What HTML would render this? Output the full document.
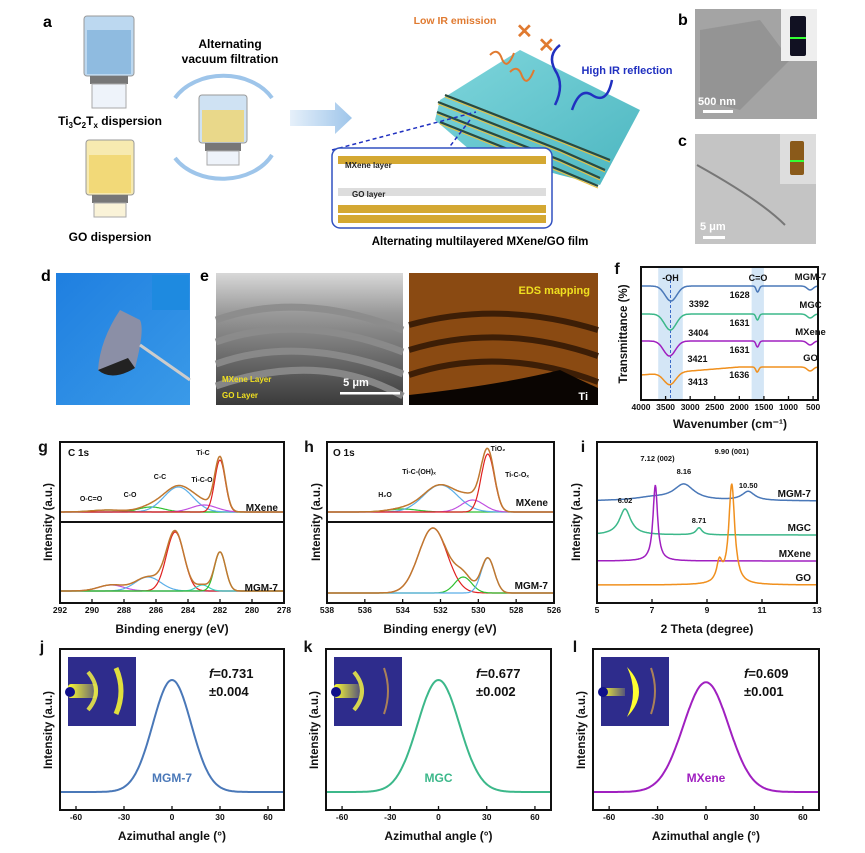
<!DOCTYPE html>
<html><head><meta charset="utf-8"><style>
body{margin:0;background:#fff;}
#root{position:relative;width:865px;height:853px;overflow:hidden;background:#fff;font-family:"Liberation Sans",Arial,sans-serif;font-weight:bold;}
svg text{font-family:"Liberation Sans",Arial,sans-serif;font-weight:bold;}
</style></head><body>
<div id="root">
<svg id="fig" width="865" height="853" viewBox="0 0 865 853" xmlns="http://www.w3.org/2000/svg">
<defs>
<linearGradient id="blueBg" x1="0" y1="0" x2="1" y2="1"><stop offset="0" stop-color="#1f7fe0"/><stop offset="1" stop-color="#3a9ae8"/></linearGradient>
<linearGradient id="sem" x1="0" y1="0" x2="0" y2="1"><stop offset="0" stop-color="#d8d8d8"/><stop offset="0.3" stop-color="#9a9a9a"/><stop offset="1" stop-color="#3a3a3a"/></linearGradient>
<linearGradient id="film" x1="0" y1="0" x2="1" y2="1"><stop offset="0" stop-color="#7fd6dc"/><stop offset="1" stop-color="#4cb6c0"/></linearGradient>
<linearGradient id="arrowG" x1="0" y1="0" x2="1" y2="0"><stop offset="0" stop-color="#e6f0fa"/><stop offset="1" stop-color="#9ec5ea"/></linearGradient>
<linearGradient id="beam" x1="0" y1="0" x2="1" y2="0"><stop offset="0" stop-color="#ffff30"/><stop offset="1" stop-color="#ffff30" stop-opacity="0.2"/></linearGradient>
</defs>

<!-- Panel a -->
<g>
<text x="43" y="27" font-size="16">a</text>
<g>
<rect x="84" y="16" width="50" height="60" rx="3" fill="#bcd8f0" stroke="#999"/>
<rect x="87" y="30" width="44" height="44" fill="#8fbbe0"/>
<rect x="90" y="76" width="38" height="8" fill="#777"/>
<rect x="92" y="84" width="34" height="24" fill="#eef3fa" stroke="#aaa"/>
</g>
<text x="110" y="125" font-size="12" text-anchor="middle">Ti<tspan font-size="8" dy="3">3</tspan><tspan dy="-3">C</tspan><tspan font-size="8" dy="3">2</tspan><tspan dy="-3">T</tspan><tspan font-size="8" dy="3">x</tspan><tspan dy="-3"> dispersion</tspan></text>
<g>
<rect x="86" y="140" width="48" height="55" rx="3" fill="#f7eab0" stroke="#999"/>
<rect x="89" y="155" width="42" height="38" fill="#f2d978"/>
<rect x="92" y="195" width="36" height="8" fill="#777"/>
<rect x="94" y="203" width="32" height="14" fill="#faf3d8" stroke="#aaa"/>
</g>
<text x="110" y="241" font-size="12" text-anchor="middle">GO dispersion</text>
<text x="230" y="48" font-size="12" text-anchor="middle">Alternating</text>
<text x="230" y="63" font-size="12" text-anchor="middle">vacuum filtration</text>
<path d="M175,98 A55,42 0 0 1 272,98" fill="none" stroke="#9ec5ea" stroke-width="4"/>
<path d="M272,155 A55,42 0 0 1 175,158" fill="none" stroke="#9ec5ea" stroke-width="4"/>
<g>
<rect x="199" y="95" width="48" height="48" rx="3" fill="#cfe2f3" stroke="#999"/>
<rect x="202" y="110" width="42" height="32" fill="#e9d88a"/>
<rect x="205" y="143" width="36" height="8" fill="#777"/>
<rect x="207" y="151" width="32" height="14" fill="#eef3fa" stroke="#aaa"/>
</g>
<path d="M290,110 L335,110 L335,102 L352,118 L335,134 L335,126 L290,126 Z" fill="url(#arrowG)"/>
<path d="M440,100 L520,50 L640,110 L600,185 L560,175 L470,150 L435,120 Z" fill="url(#film)"/>
<g stroke="#2a4a40" stroke-width="2.2" fill="none">
<path d="M437,112 L560,160 L600,178"/><path d="M440,122 L560,170 L598,186"/><path d="M438,102 L560,150 L605,170"/><path d="M445,95 L560,140 L610,160"/>
</g>
<g stroke="#e8c040" stroke-width="1" fill="none">
<path d="M437,114 L560,162 L600,180"/><path d="M440,124 L560,172 L598,188"/><path d="M438,104 L560,152 L605,172"/><path d="M445,97 L560,142 L610,162"/>
</g>
<text x="455" y="24" font-size="10.5" fill="#e07a30" text-anchor="middle">Low IR emission</text>
<text x="516" y="38" font-size="20" fill="#e07a30" font-weight="normal">✕</text>
<text x="538" y="52" font-size="20" fill="#e07a30" font-weight="normal">✕</text>
<path d="M490,55 q8,-8 12,4 q5,12 12,-6" fill="none" stroke="#e07a30" stroke-width="2"/>
<path d="M510,72 q8,-8 12,4 q5,12 12,-6" fill="none" stroke="#e07a30" stroke-width="2"/>
<text x="627" y="74" font-size="11" fill="#2030c0" text-anchor="middle">High IR reflection</text>
<path d="M612,80 q-5,25 -20,15 q-12,-8 -20,15" fill="none" stroke="#2030c0" stroke-width="2.5"/>
<path d="M555,105 q10,-20 0,-35 q-8,-15 5,-25" fill="none" stroke="#2030c0" stroke-width="2.5"/>
<path d="M332,150 L476,112 M470,120 L390,225" stroke="#2030c0" stroke-width="1.5" stroke-dasharray="4,3" fill="none"/>
<rect x="332" y="148" width="220" height="80" rx="8" fill="#fff" stroke="#3050c0" stroke-width="1.5"/>
<rect x="338" y="156" width="208" height="8" fill="#d4a832"/><rect x="338" y="205" width="208" height="8" fill="#d4a832"/><rect x="338" y="215" width="208" height="8" fill="#d4a832"/>
<rect x="338" y="188" width="208" height="8" fill="#ddd"/>
<text x="345" y="168" font-size="8" fill="#222">MXene layer</text>
<text x="352" y="197" font-size="8" fill="#222">GO layer</text>
<text x="480" y="245" font-size="11.5" text-anchor="middle">Alternating multilayered MXene/GO film</text>
</g>

<!-- b, c -->
<g>
<text x="678" y="25" font-size="16">b</text>
<rect x="695" y="9" width="122" height="110" fill="#a4a4a4"/>
<path d="M700,30 L760,20 L790,60 L740,110 L700,100Z" fill="#8a8a8a" opacity="0.6"/>
<rect x="781" y="9" width="36" height="52" fill="#eee"/><rect x="790" y="16" width="16" height="40" rx="2" fill="#112"/><rect x="790" y="37" width="16" height="2" fill="#3f3"/>
<text x="698" y="105" font-size="11" fill="#fff">500 nm</text>
<rect x="703" y="110" width="30" height="3" fill="#fff"/>
</g>
<g>
<text x="678" y="146" font-size="16">c</text>
<rect x="695" y="134" width="121" height="110" fill="#c4c4c4"/>
<path d="M697,165 Q760,200 785,225" stroke="#777" stroke-width="2" fill="none"/>
<rect x="780" y="134" width="36" height="50" fill="#ddd"/><rect x="790" y="141" width="14" height="34" rx="2" fill="#8a5a1a"/><rect x="790" y="160" width="14" height="2" fill="#3f3"/>
<text x="700" y="230" font-size="11" fill="#fff">5 μm</text>
<rect x="703" y="236" width="22" height="3" fill="#fff"/>
</g>

<!-- d, e -->
<g>
<text x="41" y="281" font-size="16">d</text>
<rect x="56" y="273" width="134" height="132" fill="url(#blueBg)"/>
<path d="M120,310 Q100,340 98,370 Q110,380 135,368 Q145,330 140,320Z" fill="#8b8fa6"/>
<path d="M98,370 Q112,382 135,368 L128,358Z" fill="#222"/>
<path d="M140,345 L190,380" stroke="#ccc" stroke-width="3"/>
<rect x="152" y="275" width="37" height="35" fill="#1e8ae0"/>
</g>
<g>
<text x="200" y="281" font-size="16">e</text>
<rect x="216" y="273" width="187" height="132" fill="url(#sem)"/>
<g fill="none" stroke="#8c8c8c" stroke-width="7" opacity="0.9">
<path d="M216,320 Q300,290 403,330"/><path d="M216,342 Q300,312 403,352"/><path d="M216,364 Q300,334 403,374"/><path d="M216,386 Q320,350 403,396"/>
</g>
<text x="222" y="382" font-size="8" fill="#f0e020">MXene Layer</text>
<text x="222" y="398" font-size="8" fill="#f0e020">GO Layer</text>
<text x="356" y="386" font-size="11" fill="#fff" text-anchor="middle">5 μm</text>
<rect x="340" y="392" width="60" height="2.5" fill="#fff"/>
<rect x="409" y="273" width="189" height="132" fill="#8a4a12"/>
<g fill="none" stroke="#2a1404" stroke-width="6" opacity="0.8">
<path d="M409,325 Q500,300 598,330"/><path d="M409,350 Q500,322 598,356"/><path d="M409,375 Q500,345 598,382"/>
</g>
<path d="M409,395 Q500,385 560,370 Q580,380 598,388 L598,405 L409,405Z" fill="#0a0502"/>
<text x="590" y="294" font-size="11" fill="#f0e020" text-anchor="end">EDS mapping</text>
<text x="588" y="400" font-size="11" fill="#fff" text-anchor="end">Ti</text>
</g>

<g id="charts"></g>
</svg>
</div>
<script>
// ===== data =====
// g: C 1s  (center eV, height a.u., sigma)
const gMxCenters=[289.0,286.3,284.6,283.0,282.0];
const gMxHeights=[2,5,25,7,52];
const gMxSigmas=[1.0,0.8,0.9,0.8,0.33];
const gColors=["#30c030","#30c030","#5aaee8","#c050e0","#e02020"];
const gMgCenters=[288.8,286.5,284.8,283.1,282.0];
const gMgHeights=[6,14,59,6,39];
const gMgSigmas=[0.8,0.8,0.55,0.4,0.35];
const gMgColors=["#c050e0","#5aaee8","#e02020","#40d0c0","#30c030"];
const gTicks=[292,290,288,286,284,282,280,278];
// h: O 1s
const hMxCenters=[534.0,532.0,530.3,529.5];
const hMxHeights=[3,27,12,58];
const hMxSigmas=[0.8,0.9,0.6,0.35];
const hMxColors=["#30c030","#5aaee8","#c050e0","#e02020"];
const hMgCenters=[532.4,530.8,529.5];
const hMgHeights=[65,16,35];
const hMgSigmas=[0.75,0.45,0.35];
const hMgColors=["#e02020","#30c030","#5aaee8"];
const hTicks=[538,536,534,532,530,528,526];
// i: XRD
const xrdNames=["MGM-7","MGC","MXene","GO"];
const xrdColors=["#4a78b8","#3cb88a","#a020c0","#f0901e"];
const xrdOffsets=[86,52,26,2];
const xrdPeakPos=[[8.16,10.5,7.0],[6.02,8.71],[7.12],[9.9,9.45]];
const xrdPeakH=[[16,9,3],[26,7],[76],[100,20]];
const xrdPeakW=[[0.45,0.28,0.8],[0.25,0.13],[0.1],[0.13,0.12]];
const xrdTicks=[5,7,9,11,13];
const xrdPeakLabels=["7.12 (002)","8.16","9.90 (001)","10.50","6.02","8.71"];
const xrdPeakLabelX=[7.2,8.16,9.9,10.5,6.02,8.71];
const xrdPeakLabelY=[126,113,133,99,84,64];
// f: FTIR
const ftNames=["MGM-7","MGC","MXene","GO"];
const ftColors=["#4a78b8","#3cb88a","#a020c0","#f0901e"];
const ftOffsets=[114,86,59,33];
const ftOH=[3392,3404,3421,3413];
const ftOHDepth=[15,16,15,12];
const ftCO=[1628,1631,1631,1636];
const ftCODepth=[6,6,6,5];
const ftTicks=[4000,3500,3000,2500,2000,1500,1000,500];
// j,k,l azimuthal
const aziNames=["MGM-7","MGC","MXene"];
const aziColors=["#4a78b8","#3cb88a","#a020c0"];
const aziSigma=[12,13,14];
const aziHeight=[100,100,98];
const aziF=["0.731","0.677","0.609"];
const aziErr=["0.004","0.002","0.001"];
const aziTicks=[-60,-30,0,30,60];

// ===== helpers =====
const NS="http://www.w3.org/2000/svg";
const charts=document.getElementById('charts');
function mk(tag,attrs,parent){const e=document.createElementNS(NS,tag);for(const k in attrs)e.setAttribute(k,attrs[k]);(parent||charts).appendChild(e);return e;}
function txt(x,y,s,size,anchor,parent,fill){const t=mk('text',{x:x,y:y,'font-size':size,'text-anchor':anchor||'middle',fill:fill||'#111'},parent);t.textContent=s;return t;}
function lin(d0,d1,r0,r1){return v=>r0+(v-d0)/(d1-d0)*(r1-r0);}
function gauss(x,c,h,s){return h*Math.exp(-(x-c)*(x-c)/(2*s*s));}
function pathFrom(xs,fy,sx,sy){let d='';xs.forEach((x,i)=>{d+=(i?'L':'M')+sx(x).toFixed(1)+','+sy(fy(x)).toFixed(1);});return d;}
function range(a,b,n){const r=[];for(let i=0;i<=n;i++)r.push(a+(b-a)*i/n);return r;}
function frame(x0,y0,x1,y1,g){mk('rect',{x:x0,y:y0,width:x1-x0,height:y1-y0,fill:'none',stroke:'#111','stroke-width':2},g);}
function xticks(ticks,sx,y,g,fmt){ticks.forEach(t=>{mk('line',{x1:sx(t),x2:sx(t),y1:y,y2:y-4,stroke:'#111','stroke-width':1.3},g);txt(sx(t),y+10,fmt?fmt(t):String(t),8.5,'middle',g);});}
function ylabel(x,y,s,g,size){const t=txt(x,y,s,size||11.5,'middle',g);t.setAttribute('transform','rotate(-90 '+x+' '+y+')');return t;}
function xps(g,xs,sx,base,c,h,s,colors,name){
  const sy=lin(0,100,base,base-100);
  c.forEach((cc,i)=>{const p=mk('path',{d:pathFrom(xs,x=>gauss(x,cc,h[i],s[i]),sx,sy),fill:'none',stroke:colors[i],'stroke-width':1.2},g);
    
    });
  const e=mk('path',{d:pathFrom(xs,x=>c.reduce((a,cc,i)=>a+gauss(x,cc,h[i],s[i]),0),sx,sy),fill:'none',stroke:'#c07830','stroke-width':1.5},g);
  
  
}

// ===== panel g =====
(function(){
const g=mk('g',{});
const sx=lin(292,278,60,284);const xs=range(292,278,280);
xps(g,xs,sx,512,gMxCenters,gMxHeights,gMxSigmas,gColors,'g-mxene');
xps(g,xs,sx,591,gMgCenters,gMgHeights,gMgSigmas,gMgColors,'g-mgm7');
frame(60,442,284,603,g);mk('line',{x1:60,x2:284,y1:522,y2:522,stroke:'#111','stroke-width':2},g);
xticks(gTicks,sx,603,g);
txt(43,452,'g',16,'middle',g);txt(68,456,'C 1s',10,'start',g);
txt(203,455,'Ti-C',7,'middle',g);txt(202,482,'Ti-C-O',7,'middle',g);txt(160,479,'C-C',7,'middle',g);
txt(130,497,'C-O',7,'middle',g);txt(91,501,'O-C=O',7,'middle',g);
txt(278,511,'MXene',10,'end',g);txt(278,591,'MGM-7',10,'end',g);
ylabel(52,522,'Intensity (a.u.)',g);txt(172,633,'Binding energy (eV)',12,'middle',g);
})();
// ===== panel h =====
(function(){
const g=mk('g',{});
const sx=lin(538,526,327,554);const xs=range(538,526,280);
xps(g,xs,sx,512,hMxCenters,hMxHeights,hMxSigmas,hMxColors,'h-mxene');
xps(g,xs,sx,593,hMgCenters,hMgHeights,hMgSigmas,hMgColors,'h-mgm7');
frame(327,442,554,603,g);mk('line',{x1:327,x2:554,y1:522,y2:522,stroke:'#111','stroke-width':2},g);
xticks(hTicks,sx,603,g);
txt(309,452,'h',16,'middle',g);txt(333,456,'O 1s',10,'start',g);
txt(498,451,'TiO₂',7,'middle',g);txt(419,474,'Ti-C-(OH)ₓ',7,'middle',g);txt(385,497,'H₂O',7,'middle',g);txt(517,477,'Ti-C-Oₓ',7,'middle',g);
txt(548,506,'MXene',10,'end',g);txt(548,589,'MGM-7',10,'end',g);
ylabel(320,522,'Intensity (a.u.)',g);txt(440,633,'Binding energy (eV)',12,'middle',g);
})();
// ===== panel i =====
(function(){
const g=mk('g',{});
const sx=lin(5,13,597,817);const sy=lin(0,100,587,487);const xs=range(5,13,400);
xrdNames.forEach((n,k)=>{
 const f=x=>xrdOffsets[k]+xrdPeakPos[k].reduce((a,c,i)=>a+xrdPeakH[k][i]/(1+Math.pow((x-c)/xrdPeakW[k][i],2)),0);
 const p=mk('path',{d:pathFrom(xs,f,sx,sy),fill:'none',stroke:xrdColors[k],'stroke-width':1.5},g);
 
 
 txt(811,sy(xrdOffsets[k])-4,n,10,'end',g);
});
xrdPeakLabels.forEach((l,i)=>txt(sx(xrdPeakLabelX[i]),sy(xrdPeakLabelY[i]),l,7.5,'middle',g));
frame(597,442,817,603,g);xticks(xrdTicks,sx,603,g);
txt(583,452,'i',16,'middle',g);ylabel(580,522,'Intensity (a.u.)',g);txt(707,633,'2 Theta (degree)',12,'middle',g);
})();
// ===== panel f =====
(function(){
const g=mk('g',{});
const sx=lin(4000,400,641,818);const sy=lin(0,100,400,300);const xs=range(4000,400,360);
mk('rect',{x:sx(3650),y:268,width:sx(3150)-sx(3650),height:131,fill:'#d4e6f6'},g);
mk('rect',{x:sx(1750),y:268,width:sx(1500)-sx(1750),height:131,fill:'#d4e6f6'},g);
mk('line',{x1:sx(3400),x2:sx(3400),y1:275,y2:398,stroke:'#3a6ac8','stroke-dasharray':'3,2'},g);
ftNames.forEach((n,k)=>{
 const f=x=>ftOffsets[k]-gauss(x,ftOH[k],ftOHDepth[k],120)-gauss(x,ftCO[k],ftCODepth[k],30)-(k===3?Math.max(0,(x-2000)/2000)*8:0)-gauss(x,560,4,60);
 const p=mk('path',{d:pathFrom(xs,f,sx,sy),fill:'none',stroke:ftColors[k],'stroke-width':1.5},g);
 
 
 txt(sx(1000)+22,sy(ftOffsets[k])-6,n,9.5,'middle',g);
 txt(sx(ftOH[k])+18,sy(ftOffsets[k]-ftOHDepth[k])+6,String(ftOH[k]),9,'start',g);
 txt(sx(ftCO[k])-8,sy(ftOffsets[k]-ftCODepth[k])+6,String(ftCO[k]),9,'end',g);
});
txt(sx(3400),281,'-OH',9,'middle',g);txt(sx(1620),281,'C=O',9,'middle',g);
frame(641,267,818,400,g);xticks(ftTicks,sx,400,g);
txt(617,274,'f',16,'middle',g);ylabel(627,334,'Transmittance (%)',g);txt(730,428,'Wavenumber (cm⁻¹)',12,'middle',g);
})();
// ===== panels j,k,l =====
const aziFrames=[[60,284],[326,551],[593,819]];
const aziLetters=['j','k','l'];
aziNames.forEach((n,k)=>{
 const g=mk('g',{});
 const [x0,x1]=aziFrames[k];const sx=lin(-70,70,x0,x1);const sy=lin(0,100,792,680);const xs=range(-70,70,280);
 const p=mk('path',{d:pathFrom(xs,x=>gauss(x,0,aziHeight[k],aziSigma[k]),sx,sy),fill:'none',stroke:aziColors[k],'stroke-width':2},g);
 
 
 const ins=mk('g',{},g);
 
 
 mk('rect',{x:x0+8,y:657,width:68,height:69,fill:'#2e2c8c'},ins);
 if(k===2){
   mk('path',{d:'M'+(x0+34)+',667 Q'+(x0+58)+',692 '+(x0+34)+',717 Q'+(x0+46)+',692 '+(x0+34)+',667Z',fill:'#ffff30'},ins);
   mk('rect',{x:x0+8,y:688,width:24,height:8,fill:'url(#beam)'},ins);
 } else {
   mk('rect',{x:x0+8,y:684,width:k===0?30:26,height:14,rx:3,fill:'url(#beam)'},ins);
   mk('path',{d:'M'+(x0+28)+',672 Q'+(x0+44)+',691 '+(x0+28)+',710',fill:'none',stroke:'#ffff40','stroke-width':4,opacity:0.8},ins);
 }
 mk('path',{d:'M'+(x0+(k===0?56:58))+',668 Q'+(x0+66)+',691 '+(x0+(k===0?56:58))+',714',fill:'none',stroke:k===0?'#ffff30':'#c09050','stroke-width':k===0?5:2,opacity:0.85},ins);
 mk('circle',{cx:x0+10,cy:692,r:5,fill:'#10108a'},g);
 txt(sx(0),782,n,12,'middle',g,aziColors[k]);
 const t=txt(x1-75,678,'',13,'start',g);t.innerHTML='<tspan font-style="italic">f</tspan>='+aziF[k];
 txt(x1-75,696,'±'+aziErr[k],13,'start',g);
 frame(x0,649,x1,810,g);xticks(aziTicks,sx,810,g);
 txt(x0-18,652,aziLetters[k],16,'middle',g);ylabel(x0-8,730,'Intensity (a.u.)',g);
 txt((x0+x1)/2,840,'Azimuthal angle (°)',12,'middle',g);
});
</script>
</body></html>
